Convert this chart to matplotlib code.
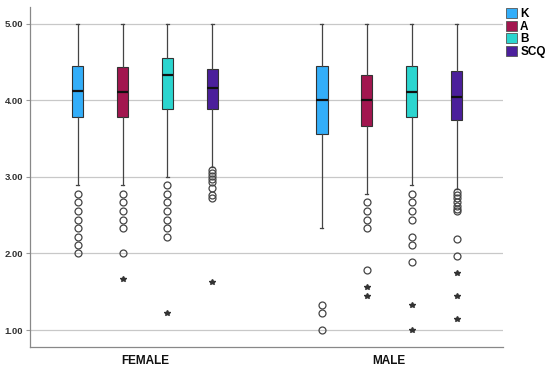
import numpy as np
import matplotlib
matplotlib.use('Agg')
import matplotlib.pyplot as plt
from matplotlib.patches import Patch

plt.rcParams['font.family'] = ['Liberation Sans', 'DejaVu Sans']

groups = ['FEMALE', 'MALE']
series = ['K', 'A', 'B', 'SCQ']
colors = ['#33aef9', '#a2164f', '#2bd5cf', '#4b1f9b']

# box stats per group, per series: (whislo, q1, med, q3, whishi)
stats = {
    'FEMALE': [(2.89, 3.78, 4.12, 4.45, 5.0),
               (2.89, 3.78, 4.11, 4.44, 5.0),
               (3.00, 3.89, 4.33, 4.56, 5.0),
               (3.13, 3.89, 4.16, 4.41, 5.0)],
    'MALE':   [(2.33, 3.56, 4.00, 4.45, 5.0),
               (2.78, 3.67, 4.00, 4.33, 5.0),
               (2.89, 3.78, 4.11, 4.45, 5.0),
               (2.84, 3.75, 4.05, 4.38, 5.0)],
}
# outliers (circles)
outliers = {
    'FEMALE': [[2.78, 2.67, 2.56, 2.44, 2.33, 2.22, 2.11, 2.00],
               [2.78, 2.67, 2.56, 2.44, 2.33, 2.00],
               [2.89, 2.78, 2.67, 2.56, 2.44, 2.33, 2.22],
               [3.09, 3.05, 3.01, 2.97, 2.93, 2.86, 2.76, 2.72]],
    'MALE':   [[1.33, 1.22, 1.00],
               [2.67, 2.56, 2.44, 2.33, 1.78],
               [2.78, 2.67, 2.56, 2.44, 2.22, 2.11, 1.89],
               [2.80, 2.76, 2.72, 2.67, 2.62, 2.58, 2.55, 2.19, 1.97]],
}
# extremes (stars)
extremes = {
    'FEMALE': [[], [1.67], [1.22], [1.63]],
    'MALE':   [[], [1.56, 1.44], [1.33, 1.00], [1.75, 1.45, 1.15]],
}

offsets = [-0.276, -0.092, 0.092, 0.276]

fig = plt.figure(figsize=(5.5, 3.71), dpi=100)
ax = fig.add_axes([0.0545, 0.0647, 0.8605, 0.9163])

for gi, g in enumerate(groups):
    for si in range(len(series)):
        lo, q1, med, q3, hi = stats[g][si]
        pos = gi + 1 + offsets[si]
        bstat = [dict(whislo=lo, q1=q1, med=med, q3=q3, whishi=hi,
                      fliers=outliers[g][si])]
        ax.bxp(bstat, positions=[pos], widths=0.047, patch_artist=True,
               showcaps=True, manage_ticks=False,
               boxprops=dict(facecolor=colors[si], edgecolor='#333333', linewidth=0.8),
               medianprops=dict(color='#111111', linewidth=1.6),
               whiskerprops=dict(color='#444444', linewidth=0.9),
               capprops=dict(color='#444444', linewidth=0.9),
               capwidths=0.012,
               flierprops=dict(marker='o', markersize=5, markerfacecolor='none',
                               markeredgecolor='#444444', markeredgewidth=0.9),
               zorder=3)
        if extremes[g][si]:
            ax.plot([pos] * len(extremes[g][si]), extremes[g][si], '*',
                    color='#333333', markersize=4, zorder=3)

ax.set_xlim(0.529, 2.467)
ax.set_ylim(0.778, 5.22)
ax.set_yticks([1, 2, 3, 4, 5])
ax.set_yticklabels(['1.00', '2.00', '3.00', '4.00', '5.00'],
                   fontsize=6.8, fontweight='bold', color='#333333')
ax.set_xticks([1, 2])
ax.set_xticklabels(groups, fontsize=8.5, fontweight='bold', color='#111111')
ax.tick_params(axis='x', length=0, pad=6)
ax.tick_params(axis='y', length=3, color='#999999', pad=2)
ax.yaxis.grid(True, color='#c8c8c8', linewidth=0.9, zorder=0)
ax.set_axisbelow(True)
for s in ['top', 'right']:
    ax.spines[s].set_visible(False)
for s in ['left', 'bottom']:
    ax.spines[s].set_color('#888888')
    ax.spines[s].set_linewidth(0.9)

handles = [Patch(facecolor=c, edgecolor='#555555', linewidth=0.6) for c in colors]
leg = fig.legend(handles, series, loc='upper left', bbox_to_anchor=(0.905, 1.0),
                 frameon=False, fontsize=8.5, handlelength=0.9, handleheight=0.9,
                 handletextpad=0.3, labelspacing=0.05, borderpad=0.2)
for t in leg.get_texts():
    t.set_fontweight('bold')

fig.savefig('out.png', dpi=100)
